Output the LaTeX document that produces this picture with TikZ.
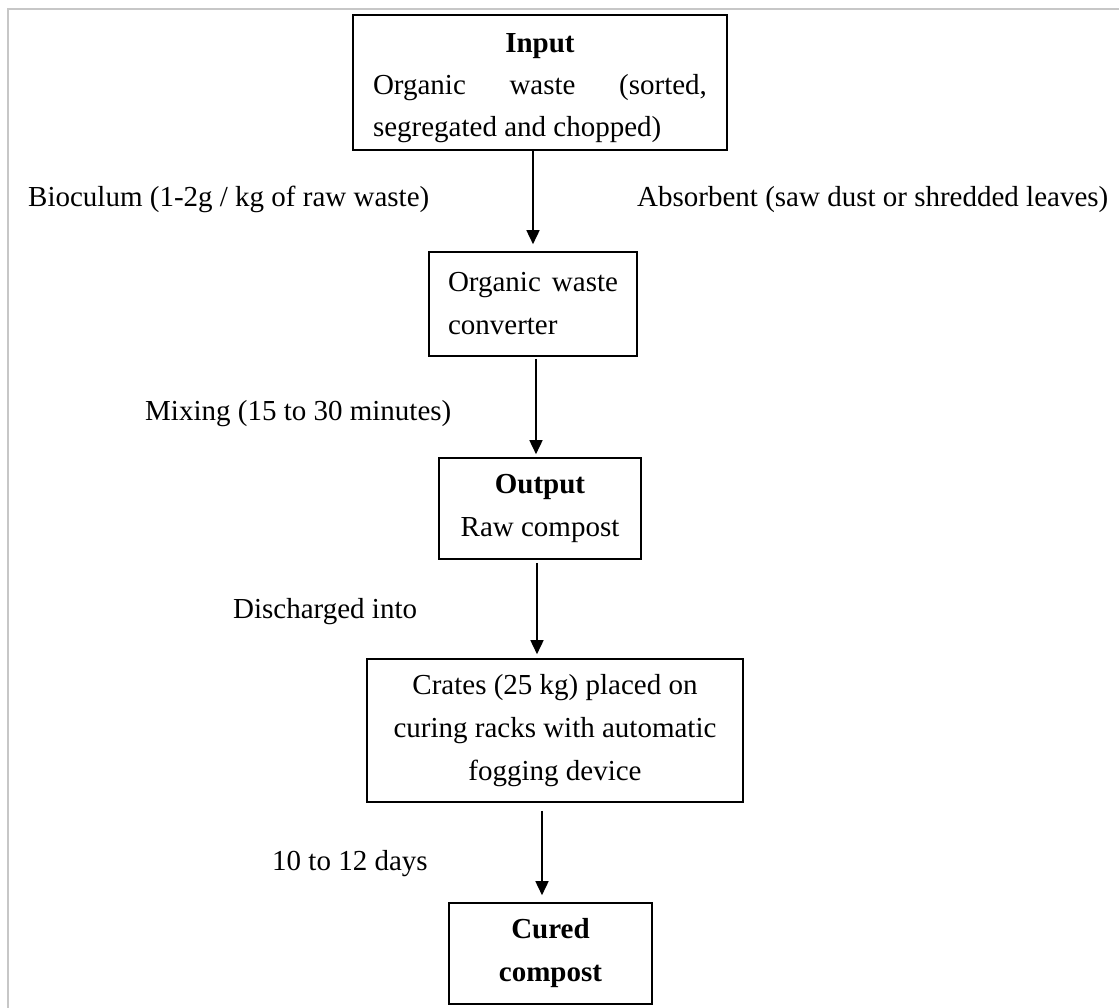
\documentclass[tikz,border=0pt]{standalone}
\usepackage{fontspec}
\setmainfont{Liberation Serif}
\usetikzlibrary{arrows.meta,positioning,calc}

\begin{document}
\begin{tikzpicture}[x=1pt,y=-1pt] % work in page units, y grows downwards
\tikzset{every node/.style={font=\fontsize{29pt}{43pt}\selectfont}} % one text size for the whole chart
\tikzset{stepbox/.style={draw, line width=1.6pt, inner sep=0pt, align=center}} % boxes of the process
\tikzset{flow/.style={-{Triangle[length=14pt,width=13pt]}, line width=1.6pt}} % arrows between boxes
\tikzset{note/.style={anchor=base west, inner sep=0pt}} % side remarks
\useasboundingbox (0,0) rectangle (1119,1008);
\draw[line width=2pt, black!22] (8,1008) -- (8,9) -- (1119,9); % page frame
\node[stepbox, minimum width=374pt, minimum height=135pt, text width=334pt, text height=25pt, text depth=84pt, align=justify, font=\fontsize{29pt}{42pt}\selectfont] (input) at (540,82.5) {\makebox[\hsize]{\textbf{Input}}\\ Organic waste (sorted,\linebreak segregated and chopped)};
\node[stepbox, minimum width=208pt, minimum height=104pt, text width=170pt, align=justify] (conv) at (533,304) {Organic waste\linebreak converter};
\node[stepbox, minimum width=202pt, minimum height=101pt] (out) at (540,508.5) {\textbf{Output}\\Raw compost};
\node[stepbox, minimum width=376pt, minimum height=143pt] (crates) at (555,730.5) {Crates (25 kg) placed on\\curing racks with automatic\\fogging device};
\node[stepbox, minimum width=203pt, minimum height=101pt] (cured) at (550.5,953.5) {\textbf{Cured}\\\textbf{compost}};
\node[note] (bioculum) at (28,207) {Bioculum (1-2g / kg of raw waste)};
\node[note] (absorbent) at (637,207) {Absorbent (saw dust or shredded leaves)};
\node[note] (mixing) at (145,420) {Mixing (15 to 30 minutes)};
\node[note] (discharge) at (233,618) {Discharged into};
\node[note] (days) at (272,870) {10 to 12 days};
\draw[flow, shorten >=7pt] (conv.north |- input.south) -- (conv.north);
\draw[flow, shorten <=2pt, shorten >=3pt] ([xshift=3pt]conv.south) -- ([xshift=-4pt]out.north);
\draw[flow, shorten <=3pt, shorten >=4pt] ([xshift=-3pt]out.south) -- ([xshift=-18pt]crates.north);
\draw[flow, shorten <=8pt, shorten >=7pt] ([xshift=-13pt]crates.south) -- ([xshift=-8.5pt]cured.north);
\end{tikzpicture}
\end{document}
